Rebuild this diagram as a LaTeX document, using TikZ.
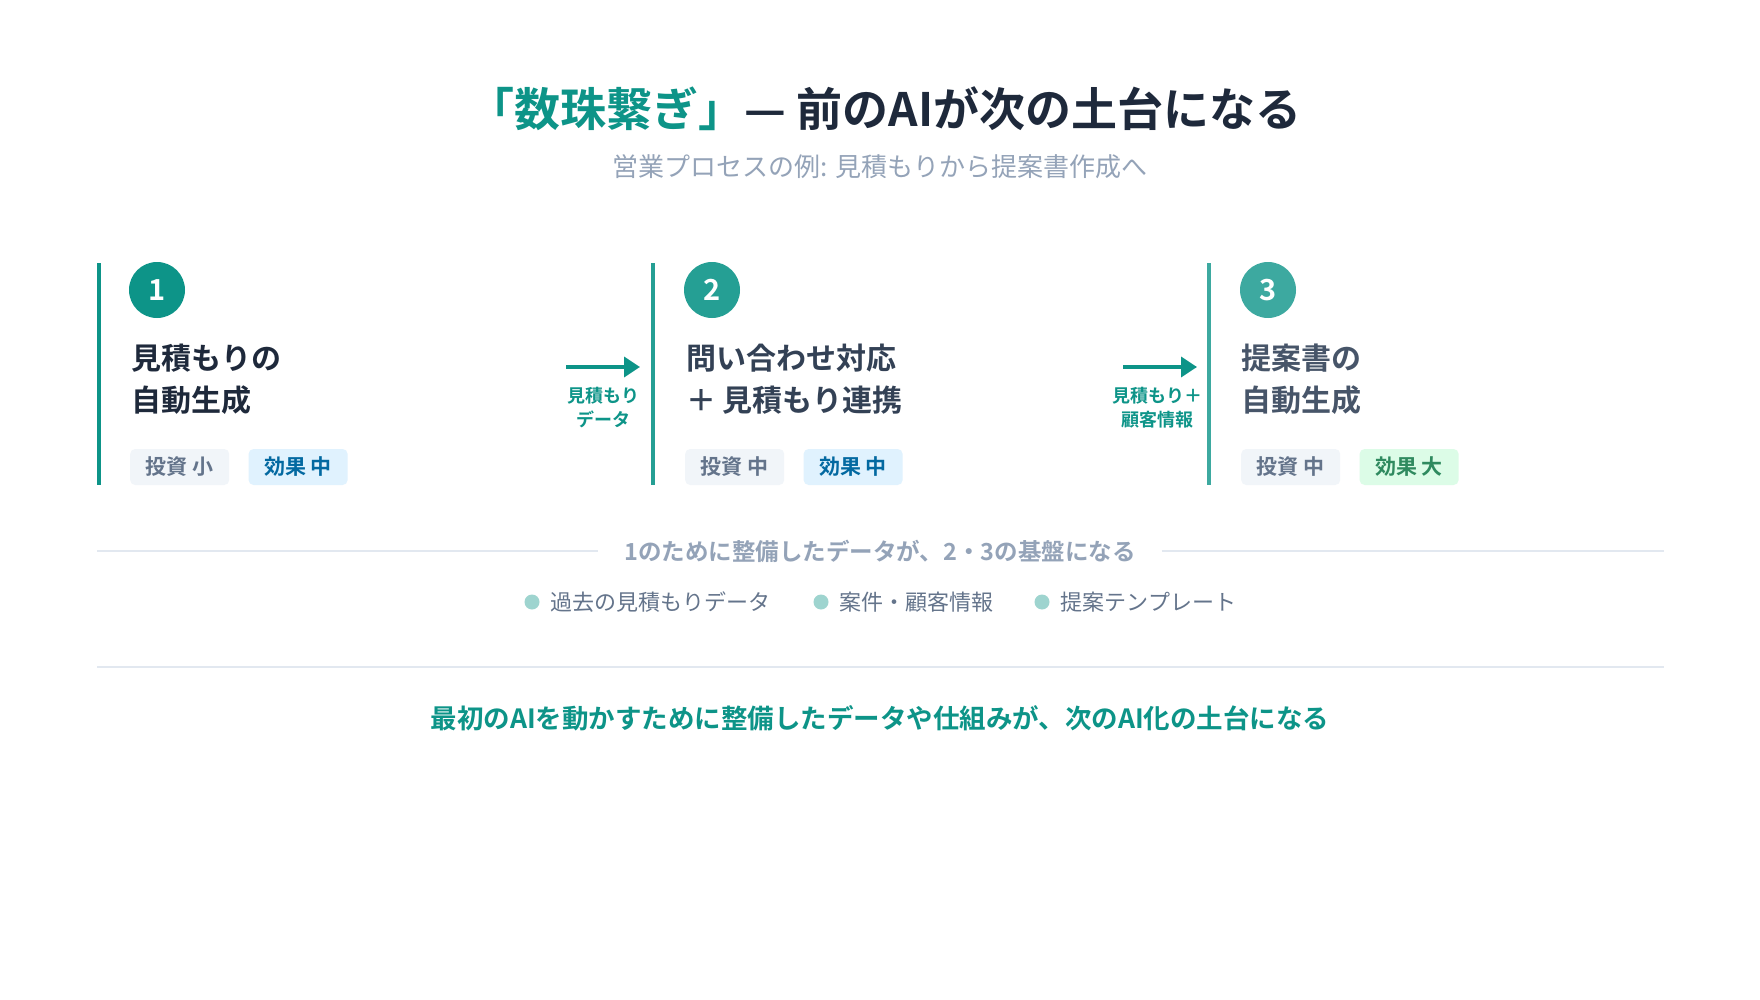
\documentclass[tikz,border=0pt]{standalone}
\usepackage{fontspec}
\setmainfont{Noto Sans CJK JP}[BoldFont={Noto Sans CJK JP Bold}]
\usetikzlibrary{positioning,arrows.meta}

\definecolor{accent}{HTML}{0D9488}
\definecolor{ink}{HTML}{1E293B}
\definecolor{inktwo}{HTML}{334155}
\definecolor{inkthree}{HTML}{475569}
\definecolor{muted}{HTML}{94A3B8}
\definecolor{slate}{HTML}{64748B}
\definecolor{rule}{HTML}{E2E8F0}
\definecolor{graybg}{HTML}{F1F5F9}
\definecolor{bluebg}{HTML}{E0F2FE}
\definecolor{bluetext}{HTML}{0369A1}
\definecolor{greenbg}{HTML}{DCFCE7}
\definecolor{greentext}{HTML}{2F8A5F}

\begin{document}
\begin{tikzpicture}[
       x=1pt, y=-1pt,
       node distance=19pt,
       stripe/.style={line width=4.5pt},
       stepnum/.style={circle, minimum size=56pt, inner sep=0pt, text=white, font=\fontsize{29}{29}\selectfont\bfseries},
       heading/.style={anchor=west, align=left, inner sep=0pt, font=\fontsize{30}{42}\selectfont\bfseries},
       tag/.style={rectangle, rounded corners=5pt, minimum width=99pt, minimum height=36pt, inner sep=0pt, font=\fontsize{21}{21}\selectfont\bfseries},
       invest/.style={tag, fill=graybg, text=slate},
       effect/.style={tag, fill=bluebg, text=bluetext},
       arrow/.style={-{Triangle[length=16pt, width=20pt]}, line width=3.5pt, draw=accent},
       arrowlabel/.style={align=center, inner sep=0pt, text=accent, font=\fontsize{18}{24}\selectfont\bfseries},
       dot/.style={circle, minimum size=15pt, inner sep=0pt, fill=accent!40},
       item/.style={inner sep=0pt, text=slate, font=\fontsize{22}{22}\selectfont},
       divider/.style={draw=rule, line width=2pt}
   ]
   \fill[white] (0,0) rectangle (1760,1000);
   \useasboundingbox (0,0) rectangle (1760,1000);

   % title
   \node[font=\fontsize{46}{46}\selectfont\bfseries, text=ink] (title) at (885,109)
     {\textcolor{accent}{「数珠繋ぎ」}— 前のAIが次の土台になる};
   \node[font=\fontsize{26}{26}\selectfont, text=muted] (subtitle) at (880,167)
     {営業プロセスの例: 見積もりから提案書作成へ};

   % step 1
   \draw[stripe, accent] (99,263) -- (99,485);
   \node[stepnum, fill=accent] (num1) at (157,290) {1};
   \node[heading, text=ink] (head1) at (131,379) {見積もりの\\自動生成};
   \node[invest, anchor=west] (inv1) at (130,467) {投資 小};
   \node[effect, right=of inv1] (eff1) {効果 中};

   % step 2
   \draw[stripe, accent!90] (653,263) -- (653,485);
   \node[stepnum, fill=accent!90] (num2) at (712,290) {2};
   \node[heading, text=inktwo] (head2) at (686,379) {問い合わせ対応\\＋ 見積もり連携};
   \node[invest, anchor=west] (inv2) at (685,467) {投資 中};
   \node[effect, right=of inv2] (eff2) {効果 中};

   % step 3
   \draw[stripe, accent!80] (1209,263) -- (1209,485);
   \node[stepnum, fill=accent!80] (num3) at (1268,290) {3};
   \node[heading, text=inkthree] (head3) at (1241,379) {提案書の\\自動生成};
   \node[invest, anchor=west] (inv3) at (1241,467) {投資 中};
   \node[effect, fill=greenbg, text=greentext, right=of inv3] (eff3) {効果 大};

   % hand-over arrows
   \coordinate (a1s) at (566,367);
   \coordinate (a1e) at (640,367);
   \draw[arrow] (a1s) -- (a1e);
   \node[arrowlabel] (lab1) at (603,408) {見積もり\\データ};
   \coordinate (a2s) at (1123,367);
   \coordinate (a2e) at (1197,367);
   \draw[arrow] (a2s) -- (a2e);
   \node[arrowlabel] (lab2) at (1157,408) {見積もり＋\\顧客情報};

   % shared data
   \node[inner xsep=26pt, text=muted, font=\fontsize{23.5}{24}\selectfont\bfseries] (basis) at (880,551)
     {1のために整備したデータが、2・3の基盤になる};
   \coordinate (divL) at (97,551);
   \coordinate (divR) at (1664,551);
   \draw[divider] (divL) -- (basis.west);
   \draw[divider] (basis.east) -- (divR);

   \node[dot] (dot1) at (532,602) {};
   \node[item, right=11pt of dot1] (data1) {過去の見積もりデータ};
   \node[dot] (dot2) at (821,602) {};
   \node[item, right=11pt of dot2] (data2) {案件・顧客情報};
   \node[dot] (dot3) at (1042,602) {};
   \node[item, right=11pt of dot3] (data3) {提案テンプレート};

   \coordinate (ruleL) at (97,667);
   \coordinate (ruleR) at (1664,667);
   \draw[divider] (ruleL) -- (ruleR);

   % closing message
   \node[text=accent, font=\fontsize{26.5}{27}\selectfont\bfseries] (message) at (880,718)
     {最初のAIを動かすために整備したデータや仕組みが、次のAI化の土台になる};
   \end{tikzpicture}
\end{document}
